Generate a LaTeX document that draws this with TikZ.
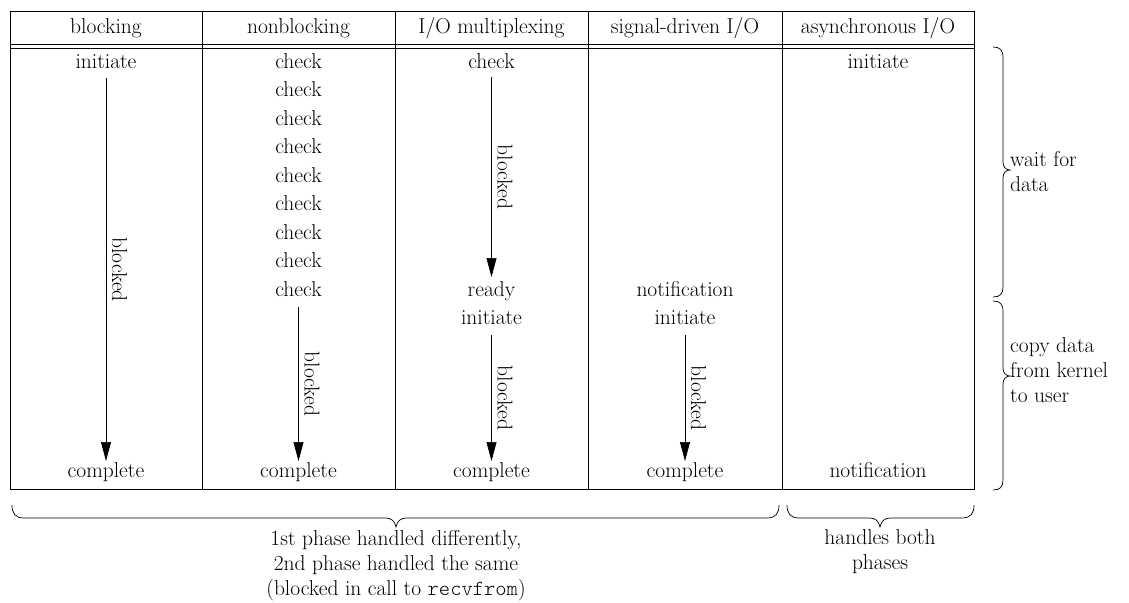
\documentclass[tikz,border=0pt]{standalone}
\usepackage{fontspec}
\newfontfamily\codefont{Latin Modern Mono Light}
\usetikzlibrary{arrows.meta}
\begin{document}
\begin{tikzpicture}[x=1pt,y=-1pt,
  every node/.style={inner sep=0pt, font=\fontsize{21.5}{24}\selectfont},
  cell/.style={anchor=base},
  rule/.style={line width=0.8pt},
  flow/.style={line width=0.7pt, -{Triangle[length=19pt,width=10pt]}},
  tag/.style={anchor=base, xshift=6pt, rotate=-90},
  curly/.style={line width=0.7pt},
  note/.style={align=left, anchor=north west, font=\fontsize{21.5}{25}\selectfont},
  caption/.style={align=center, anchor=north, font=\fontsize{21.5}{25}\selectfont},
]
\useasboundingbox (0,0) rectangle (1129,602);

% table frame, double rule under the header, column rules
\draw[rule] (10,11) rectangle (974,489);
\draw[rule] (10,44) -- (974,44) (10,48) -- (974,48);
\foreach \x in {202,395,588,782} \draw[rule] (\x,11) -- (\x,489);

% header
\node[cell] (h1) at (106,34)   {blocking};
\node[cell] (h2) at (298.5,34) {nonblocking};
\node[cell] (h3) at (491.5,34) {I/O multiplexing};
\node[cell] (h4) at (685,34)   {signal-driven I/O};
\node[cell] (h5) at (878,34)   {asynchronous I/O};

% blocking
\node[cell] (b0) at (106,68)  {initiate};
\node[cell] (bC) at (106,477) {complete};

% nonblocking
\foreach \k in {0,...,8} \node[cell] (n\k) at (298.5,{68+28.5*\k}) {check};
\node[cell] (nC) at (298.5,477) {complete};

% I/O multiplexing
\node[cell] (m0) at (491.5,68)    {check};
\node[cell] (m8) at (491.5,296)   {ready};
\node[cell] (m9) at (491.5,324.5) {initiate};
\node[cell] (mC) at (491.5,477)   {complete};

% signal-driven I/O
\node[cell] (s8) at (685,296)   {notification};
\node[cell] (s9) at (685,324.5) {initiate};
\node[cell] (sC) at (685,477)   {complete};

% asynchronous I/O
\node[cell] (a0) at (878,68)  {initiate};
\node[cell] (aC) at (878,477) {notification};

% blocked intervals
\draw[flow] ([yshift=-10pt]b0.base)   -- node[tag]{blocked} ([yshift=16pt]bC.base);
\draw[flow] ([yshift=-11pt]n8.base)   -- node[tag]{blocked} ([yshift=16pt]nC.base);
\draw[flow] ([yshift=-9pt]m0.base)    -- node[tag]{blocked} ([yshift=19pt]m8.base);
\draw[flow] ([yshift=-10.5pt]m9.base) -- node[tag]{blocked} ([yshift=16pt]mC.base);
\draw[flow] ([yshift=-10.5pt]s9.base) -- node[tag]{blocked} ([yshift=16pt]sC.base);

% right-hand braces for the two phases
\draw[curly] (993,47) .. controls (1000,47) and (1003,50) .. (1003,58)
  -- (1003,162) .. controls (1003,167) and (1006,170) .. (1010,170)
  .. controls (1006,170) and (1003,173) .. (1003,178)
  -- (1003,287) .. controls (1003,294) and (1000,297) .. (993,297);
\draw[curly] (993,301) .. controls (1000,301) and (1003,304) .. (1003,312)
  -- (1003,368) .. controls (1003,373) and (1006,376) .. (1010,376)
  .. controls (1006,376) and (1003,379) .. (1003,384)
  -- (1003,480) .. controls (1003,487) and (1000,490) .. (993,490);
\node[note] (wait) at (1010,151) {wait for\\data};
\node[note] (copy) at (1010,337) {copy data\\from kernel\\to user};

% bottom braces
\draw[curly] (12,505) .. controls (12,513) and (15,518) .. (24,518)
  -- (386,518) .. controls (391,518) and (395,521) .. (396,527)
  .. controls (397,521) and (401,518) .. (406,518)
  -- (767,518) .. controls (776,518) and (779,513) .. (779,505);
\draw[curly] (787,505) .. controls (787,513) and (790,518) .. (799,518)
  -- (870,518) .. controls (875,518) and (879,521) .. (880,527)
  .. controls (881,521) and (885,518) .. (890,518)
  -- (962,518) .. controls (971,518) and (974,513) .. (974,505);
\node[caption] (same) at (396,530) {1st phase handled differently,\\2nd phase handled the same\\(blocked in call to {\codefont recvfrom})};
\node[caption] (both) at (880,529) {handles both\\phases};
\end{tikzpicture}
\end{document}
